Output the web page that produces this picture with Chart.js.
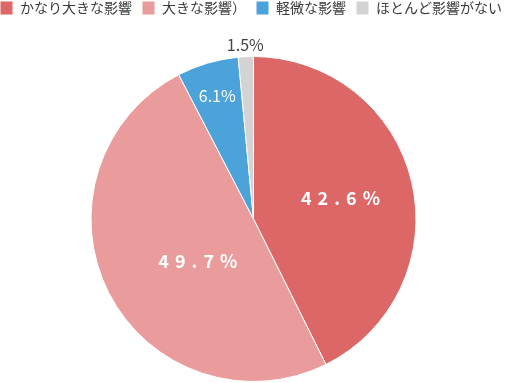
<!DOCTYPE html>
<html><head><meta charset="utf-8">
<script src="https://cdn.jsdelivr.net/npm/chart.js@4.4.1/dist/chart.umd.min.js"></script>
<style>html,body{margin:0;padding:0;background:#fff}#wrap{width:507px;height:383px}</style>
</head><body><div id="wrap"><canvas id="c" width="507" height="383"></canvas></div>
<script>
const categories = ['かなり大きな影響', '大きな影響）', '軽微な影響', 'ほとんど影響がない'];
const values = [42.6, 49.7, 6.1, 1.5];
const labels = ['42.6%', '49.7%', '6.1%', '1.5%'];
const colors = ['#dd6767', '#e99c9b', '#4ba3da', '#d3d3d3'];
const FONT = "'Noto Sans CJK JP','Noto Sans',sans-serif";

const labelStyle = [
  {r: 0.55, font: "bold 18px " + FONT, color: '#fff', ls: '6px'},
  {r: 0.43, font: "bold 18px " + FONT, color: '#fff', ls: '6px', da: -0.18},
  {r: 0.79, font: "16px " + FONT, color: '#fff', ls: '0px'},
  {r: 1.07, font: "16px " + FONT, color: '#444', ls: '0px'}
];

const legendTweak = {
  id: 'legendTweak',
  beforeInit(chart) {
    const lg = chart.legend;
    const origFit = lg.fit;
    lg.fit = function () {
      const mw = this.maxWidth;
      this.maxWidth = mw + 40;
      origFit.call(this);
      this.maxWidth = mw;
      this.width = mw;
      this.height = 56;
    };
    const origDraw = lg.draw;
    lg.draw = function () {
      const ctx = this.ctx;
      const r = this.right, w = this.width;
      this.right = r + 40;
      this.width = w + 40;
      ctx.save();
      ctx.translate(-10, -9);
      origDraw.apply(this, arguments);
      ctx.restore();
      this.right = r;
      this.width = w;
    };
  }
};

const pieLabels = {
  id: 'pieLabels',
  afterDatasetsDraw(chart) {
    const ctx = chart.ctx;
    const meta = chart.getDatasetMeta(0);
    meta.data.forEach((arc, i) => {
      const s = labelStyle[i];
      const mid = (arc.startAngle + arc.endAngle) / 2 + (s.da || 0);
      const rr = arc.outerRadius * s.r;
      const x = arc.x + Math.cos(mid) * rr;
      const y = arc.y + Math.sin(mid) * rr;
      ctx.save();
      ctx.font = s.font;
      ctx.fillStyle = s.color;
      ctx.letterSpacing = s.ls;
      ctx.textBaseline = 'middle';
      ctx.textAlign = 'left';
      const w = ctx.measureText(labels[i]).width;
      const lsn = parseFloat(s.ls);
      ctx.fillText(labels[i], x - (w - lsn) / 2, y);
      ctx.restore();
    });
  }
};

new Chart(document.getElementById('c'), {
  type: 'pie',
  data: {
    labels: categories,
    datasets: [{data: values, backgroundColor: colors, borderColor: '#fff', borderWidth: 1}]
  },
  options: {
    responsive: false,
    animation: false,
    layout: {padding: {top: 0, bottom: 1, left: 0, right: 0}},
    plugins: {
      tooltip: {enabled: false},
      legend: {
        position: 'top',
        align: 'start',
        labels: {
          boxWidth: 13, boxHeight: 14, padding: 10,
          color: '#3a3a3a',
          font: {size: 14, family: FONT}
        }
      }
    }
  },
  plugins: [legendTweak, pieLabels]
});
</script></body></html>
